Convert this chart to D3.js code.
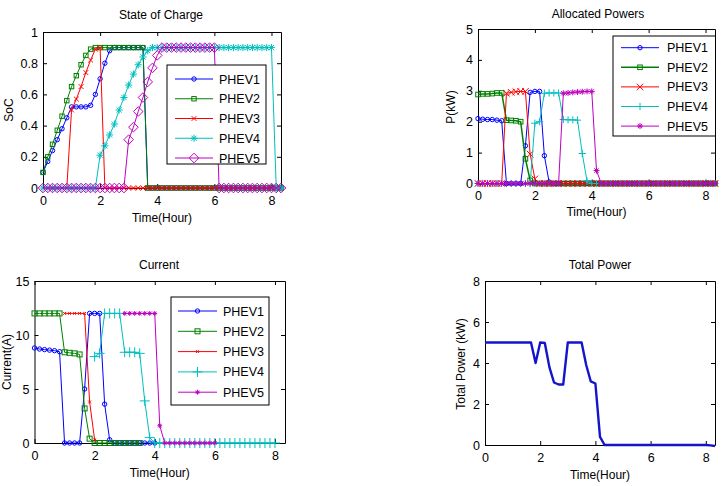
<!DOCTYPE html>
<html>
<head>
<meta charset="utf-8">
<script src="https://cdn.jsdelivr.net/npm/d3@7"></script>
<style>
body{margin:0;background:#fff}
svg{display:block;font-family:"Liberation Sans",Arial,sans-serif}
</style>
</head>
<body>
<svg width="726" height="486"></svg>
<script>
// sample times in minutes (10 min step)
var tMin = [0,10,20,30,40,50,60,70,80,90,100,110,120,130,140,150,160,170,180,190,
  200,210,220,230,240,250,260,270,280,290,300,310,320,330,340,350,360,370,380,390,
  400,410,420,430,440,450,460,470,480,490,500];
var names = ['PHEV1','PHEV2','PHEV3','PHEV4','PHEV5'];
var colors = ['#0000ff','#008000','#ff0000','#00bfbf','#bf00bf'];

// state of charge
var soc1 = [0.10,0.17,0.24,0.31,0.38,0.45,0.52,0.52,0.52,0.52,
  0.53,0.60,0.70,0.80,0.88,0.90,0.90,0.90,0.90,0.90,
  0.90,0.90,0,0,0,0,0,0,0,0, 0,0,0,0,0,0,0,0,0,0, 0,0,0,0,0,0,0,0,0,0, 0];
var soc2 = [0.10,0.20,0.28,0.37,0.46,0.56,0.65,0.72,0.79,0.85,
  0.89,0.90,0.90,0.90,0.90,0.90,0.90,0.90,0.90,0.90,
  0.90,0.90,0,0,0,0,0,0,0,0, 0,0,0,0,0,0,0,0,0,0, 0,0,0,0,0,0,0,0,0,0, 0];
var soc3 = [0,0,0,0,0,0,0.50,0.57,0.65,0.74,
  0.82,0.89,0.90,0,0,0,0,0,0,0,
  0,0,0,0,0,0,0,0,0,0, 0,0,0,0,0,0,0,0,0,0, 0,0,0,0,0,0,0,0,0,0, 0];
var soc4 = [0,0,0,0,0,0,0,0,0,0,
  0,0,0.21,0.27,0.34,0.41,0.50,0.58,0.66,0.73,
  0.79,0.84,0.88,0.90,0.90,0.90,0.90,0.90,0.90,0.90,
  0.90,0.90,0.90,0.90,0.90,0.90,0.90,0.90,0.90,0.90,
  0.90,0.90,0.90,0.90,0.90,0.90,0.90,0.90,0.90,0, 0];
var soc5 = [0,0,0,0,0,0,0,0,0,0,
  0,0,0,0,0,0,0,0,0.31,0.39,
  0.49,0.58,0.68,0.77,0.85,0.90,0.90,0.90,0.90,0.90,
  0.90,0.90,0.90,0.90,0.90,0.90,0.90,0,0,0,
  0,0,0,0,0,0,0,0,0,0, 0];

// allocated power (kW)
var pow1 = [2.10,2.08,2.07,2.07,2.05,2.03,0,0,0,0,
  1.22,2.95,2.98,2.98,0.90,0.05,0,0,0,0,
  0,0,0,0,0,0,0,0,0,0, 0,0,0,0,0,0,0,0,0,0, 0,0,0,0,0,0,0,0,0,0, 0];
var pow2 = [2.88,2.90,2.90,2.91,2.93,2.93,2.05,2.04,2.03,2.00,
  0.80,0.10,0,0,0,0,0,0,0,0,
  0,0,0,0,0,0,0,0,0,0, 0,0,0,0,0,0,0,0,0,0, 0,0,0,0,0,0,0,0,0,0, 0];
var pow3 = [0,0,0,0,0,0,2.92,2.95,2.97,2.98,
  2.98,0.95,0.15,0,0,0,0,0,0,0,
  0,0,0,0,0,0,0,0,0,0, 0,0,0,0,0,0,0,0,0,0, 0,0,0,0,0,0,0,0,0,0, 0];
var pow4 = [0,0,0,0,0,0,0,0,0,0,
  0,0,1.95,2.00,2.92,2.93,2.93,2.93,2.07,2.06,
  2.06,2.05,0.97,0.08,0,0,0,0,0,0,
  0,0,0,0,0,0,0,0,0,0, 0,0,0,0,0,0,0,0,0,0, 0];
var pow5 = [0,0,0,0,0,0,0,0,0,0,
  0,0,0,0,0,0,0,0,2.92,2.93,
  2.95,2.96,2.97,2.98,2.98,0.42,0,0,0,0,
  0,0,0,0,0,0,0,0,0,0, 0,0,0,0,0,0,0,0,0,0, 0];

// current (A), null = vehicle not present
var cur1 = [8.80,8.70,8.65,8.60,8.55,8.45,0,0,0,0,
  5.0,12,12,12,3.6,0.3,0,0,0,0,
  0,0,0,0,0,null,null,null,null,null,
  null,null,null,null,null,null,null,null,null,null,
  null,null,null,null,null,null,null,null,null,null, null];
var cur2 = [12,12,12,12,12,12,8.40,8.35,8.30,8.20,
  3.2,0.4,0,0,0,0,0,0,0,0,
  0,0,null,null,null,null,null,null,null,null,
  null,null,null,null,null,null,null,null,null,null,
  null,null,null,null,null,null,null,null,null,null, null];
var cur3 = [null,null,null,null,null,null,12,12,12,12,
  12,3.8,0.3,null,null,null,null,null,null,null,
  null,null,null,null,null,null,null,null,null,null,
  null,null,null,null,null,null,null,null,null,null,
  null,null,null,null,null,null,null,null,null,null, null];
var cur4 = [null,null,null,null,null,null,null,null,null,null,
  null,null,8.0,8.3,12,12,12,12,8.4,8.4,
  8.4,8.3,3.9,0.5,0,0,0,0,0,0,
  0,0,0,0,0,0,0,0,0,0, 0,0,0,0,0,0,0,0,0,null, null];
var cur5 = [null,null,null,null,null,null,null,null,null,null,
  null,null,null,null,null,null,null,null,12,12,
  12,12,12,12,12,1.6,0,0,0,0,
  0,0,0,0,0,0,0,null,null,null,
  null,null,null,null,null,null,null,null,null,null, null];

// total power (kW)
var totalPow = [5,5,5,5,5,5,5,5,5,5,
  5,4.0,5,4.98,3.8,3.05,2.95,2.95,5,5,
  5,5,3.9,3.1,3.0,0.4,0,0,0,0,
  0,0,0,0,0,0,0,0,0,0, 0,0,0,0,0,0,0,0,0,-0.02, -0.05];

var xTicks = [0,2,4,6,8];
var hours = tMin.map(function(m){ return m/60; });
var svg = d3.select('svg');
var fmt = d3.format('~g');

function drawMarker(g, type, cx, cy, s, col) {
  if (type === 'o') {
    g.append('circle').attr('cx',cx).attr('cy',cy).attr('r',s).attr('fill','none').attr('stroke',col);
  } else if (type === 's') {
    g.append('rect').attr('x',cx-s).attr('y',cy-s).attr('width',2*s).attr('height',2*s).attr('fill','none').attr('stroke',col);
  } else if (type === 'd') {
    g.append('polygon').attr('points',[cx,cy-s,cx+s,cy,cx,cy+s,cx-s,cy].join(',')).attr('fill','none').attr('stroke',col);
  } else if (type === '.') {
    g.append('circle').attr('cx',cx).attr('cy',cy).attr('r',s).attr('fill',col);
  } else {
    var k = type === 'x' ? s : s*0.72;
    var plus = 'M'+(cx-s)+','+cy+'H'+(cx+s)+'M'+cx+','+(cy-s)+'V'+(cy+s);
    var cross = 'M'+(cx-k)+','+(cy-k)+'L'+(cx+k)+','+(cy+k)+'M'+(cx-k)+','+(cy+k)+'L'+(cx+k)+','+(cy-k);
    var d = type === '+' ? plus : (type === 'x' ? cross : plus + cross);
    g.append('path').attr('d',d).attr('fill','none').attr('stroke',col);
  }
}

function panel(o) {
  var x = d3.scaleLinear().domain(d3.extent(hours)).range([o.l, o.r]);
  var y = d3.scaleLinear().domain([0, o.ymax]).range([o.b, o.t]);
  var g = svg.append('g');

  var axes = [
    [d3.axisBottom(x), 0, o.b, true],
    [d3.axisTop(x), 0, o.t, false],
    [d3.axisLeft(y), o.l, 0, true],
    [d3.axisRight(y), o.r, 0, false]
  ];
  axes.forEach(function(a, i) {
    var ax = a[0].tickSizeInner(-4).tickSizeOuter(0).tickValues(i < 2 ? xTicks : o.yTicks);
    if (i < 2) ax.tickPadding(8); else ax.tickPadding(5);
    ax.tickFormat(a[3] ? fmt : '');
    var ag = g.append('g').attr('transform','translate('+a[1]+','+a[2]+')').call(ax);
    ag.attr('font-family',null).attr('font-size',12.5);
    ag.selectAll('path,line').attr('stroke','#000');
    ag.selectAll('text').attr('fill','#000');
  });

  g.append('text').attr('x',o.tx).attr('y',o.ty).attr('text-anchor','middle').attr('font-size',12).text(o.title);
  g.append('text').attr('x',(o.l+o.r)/2).attr('y',o.xly).attr('text-anchor','middle').attr('font-size',12).text('Time(Hour)');
  g.append('text').attr('transform','translate('+o.ylx+','+o.yly+') rotate(-90)')
    .attr('text-anchor','middle').attr('font-size',12).text(o.ylabel);

  o.series.forEach(function(vals, si) {
    var col = o.colors ? o.colors[si] : colors[si];
    var line = d3.line().defined(function(d){ return d != null; })
      .x(function(d, i){ return x(hours[i]); }).y(function(d){ return y(d); });
    g.append('path').attr('d', line(vals)).attr('fill','none').attr('stroke',col)
      .attr('stroke-width', o.widths ? o.widths[si] : 1).attr('stroke-linejoin','round');
    if (o.marks) {
      vals.forEach(function(v, i) {
        if (v != null) drawMarker(g, o.marks[si][0], x(hours[i]), y(v), o.marks[si][1], col);
      });
    }
  });

  if (o.legend) {
    var L = o.legend;
    g.append('rect').attr('x',L.x0).attr('y',L.y0).attr('width',L.x1-L.x0).attr('height',L.y1-L.y0)
      .attr('fill','#fff').attr('stroke','#000');
    names.forEach(function(n, i) {
      var ry = L.row0 + i*L.step;
      var col = colors[i];
      g.append('line').attr('x1',L.lx0).attr('x2',L.lx1).attr('y1',ry).attr('y2',ry)
        .attr('stroke',col).attr('stroke-width', o.widths ? o.widths[i] : 1);
      drawMarker(g, o.marks[i][0], (L.lx0+L.lx1)/2, ry, o.marks[i][1], col);
      g.append('text').attr('x',L.tx).attr('y',ry+4.5).attr('font-size',12.5).text(n);
    });
  }
}

panel({l:43, r:281, t:32, b:188, ymax:1, yTicks:[0,0.2,0.4,0.6,0.8,1],
  title:'State of Charge', tx:161, ty:18.5, xly:222, ylabel:'SoC', ylx:13, yly:110,
  series:[soc1,soc2,soc3,soc4,soc5],
  marks:[['o',2.2],['s',2.2],['x',2.4],['*',3.6],['d',4.8]],
  legend:{x0:167, y0:65, x1:266, y1:164, row0:79, step:19.75, lx0:175, lx1:213, tx:219}});

panel({l:478, r:715, t:29, b:183.5, ymax:5, yTicks:[0,1,2,3,4,5],
  title:'Allocated Powers', tx:598, ty:18, xly:216, ylabel:'P(kW)', ylx:455, yly:107,
  series:[pow1,pow2,pow3,pow4,pow5], widths:[1,1.5,1,1,1],
  marks:[['o',2.2],['s',2.3],['x',3.3],['+',3.6],['*',3]],
  legend:{x0:613, y0:36, x1:715.5, y1:136, row0:47.7, step:19.6, lx0:621, lx1:659, tx:667}});

panel({l:34.5, r:285, t:281, b:443, ymax:15, yTicks:[0,5,10,15],
  title:'Current', tx:159, ty:269, xly:477, ylabel:'Current(A)', ylx:10.5, yly:362,
  series:[cur1,cur2,cur3,cur4,cur5],
  marks:[['o',2.2],['s',2.5],['x',1.4],['+',5],['*',2.4]],
  legend:{x0:171, y0:297, x1:269, y1:405, row0:311, step:20.3, lx0:178, lx1:217, tx:223}});

panel({l:485, r:715, t:281, b:445, ymax:8, yTicks:[0,2,4,6,8],
  title:'Total Power', tx:600, ty:269, xly:479, ylabel:'Total Power (kW)', ylx:465, yly:364,
  series:[totalPow], colors:['#1414cc'], widths:[2.4]});
</script>
</body>
</html>
